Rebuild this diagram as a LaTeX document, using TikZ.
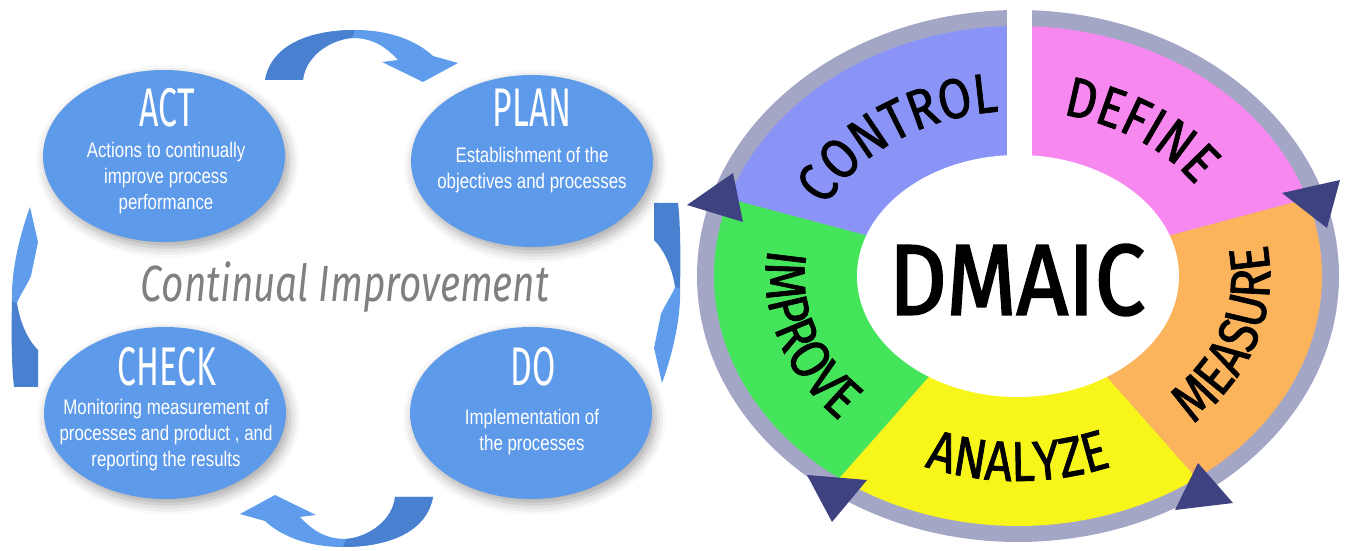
\documentclass[tikz,border=0pt]{standalone}
\usepackage{fontspec}
\setmainfont{Liberation Sans}
\newfontfamily\bodyfont[FakeStretch=0.8]{Liberation Sans}
\newfontfamily\titlefont[FakeStretch=0.62]{Fira Sans}
\newfontfamily\mottofont[FakeStretch=0.76]{Fira Sans}
\newfontfamily\dinfont[FakeStretch=0.86, FakeBold=1.2]{Fira Sans}
\newfontfamily\dmaicfont[FakeStretch=0.9, FakeBold=2]{Fira Sans}
\newcommand\ringfont{\dinfont\fontsize{32}{32}\selectfont}
\usetikzlibrary{shapes.geometric,shadows.blur,decorations.text}

\definecolor{pdcablue}{HTML}{5E9AEA}
\definecolor{bendlight}{HTML}{5F9DEC}
\definecolor{benddark}{HTML}{4A80D0}
\definecolor{mottogray}{HTML}{808080}
\definecolor{ringgray}{HTML}{A4A6C6}
\definecolor{definecol}{HTML}{F788F0}
\definecolor{measurecol}{HTML}{FBB45C}
\definecolor{analyzecol}{HTML}{F8F51A}
\definecolor{improvecol}{HTML}{45E55B}
\definecolor{controlcol}{HTML}{8A94F7}
\definecolor{tipcol}{HTML}{3E4280}

\tikzset{
  phase/.style={ellipse, fill=pdcablue, minimum width=4.84cm, minimum height=3.44cm, inner sep=0pt,
    blur shadow={shadow xshift=2pt, shadow yshift=-3pt, shadow blur radius=6pt, shadow opacity=35}},
  phasetitle/.style={text=white, inner sep=0pt, font=\titlefont\fontsize{31}{31}\selectfont},
  phasetext/.style={text=white, align=center, inner sep=0pt, font=\bodyfont\fontsize{12}{14.6}\selectfont},
  motto/.style={text=mottogray, inner sep=0pt, font=\mottofont\itshape\fontsize{29}{29}\selectfont},
  ringlabel/.style={decorate, decoration={text along path, text align=center, text={|\ringfont|#1}}},
  tip/.style={fill=tipcol}
}

\begin{document}
\begin{tikzpicture}[x=0.02cm, y=0.02cm]
\useasboundingbox (0,0) rectangle (1347,551);

% Top and bottom bent arrows
\foreach \turn in {0,180} {
  \begin{scope}[rotate around={\turn:(349,262.5)}]
    \fill[bendlight] (265,471) .. controls (272,509) and (315,521) .. (355,521)
      .. controls (392,521) and (418,509) .. (433,495) -- (458,488) -- (423,469) -- (382,489) -- (398,491)
      .. controls (385,505) and (372,513) .. (352,513) .. controls (328,511) and (305,493) .. (303,471) -- cycle;
    \fill[benddark] (265,471) .. controls (272,509) and (315,521) .. (355,521) -- (352,513)
      .. controls (328,511) and (305,493) .. (303,471) -- cycle;
  \end{scope}
}

% Left and right bent arrows
\foreach \turn in {0,180} {
  \begin{scope}[rotate around={\turn:(346,256)}]
    \fill[bendlight] (12,250) .. controls (11,276) and (18,311) .. (30,344) -- (38,309) -- (31,275)
      .. controls (26,264) and (20,256) .. (17,248) -- cycle;
    \fill[benddark] (12,250) .. controls (11,211) and (12,181) .. (14,164) -- (38,164) -- (38,201)
      .. controls (28,211) and (20,228) .. (17,248) -- cycle;
  \end{scope}
}

% PDCA ellipses
\node[phase] (act) at (164,395) {};
\node[phase] (plan) at (532,390) {};
\node[phase] (check) at (165,138) {};
\node[phase] (do) at (531,138) {};

% Titles
\node[phasetitle] (actTitle) at (167,443) {ACT};
\node[phasetitle] (planTitle) at (532,443) {PLAN};
\node[phasetitle] (checkTitle) at (167,184) {CHECK};
\node[phasetitle] (doTitle) at (533,184) {DO};

% Descriptions
\node[phasetext] (actText) at (166,373) {Actions to continually\\improve process\\performance};
\node[phasetext] (planText) at (532,381) {Establishment of the\\objectives and processes};
\node[phasetext] (checkText) at (166,116) {Monitoring measurement of\\processes and product , and\\reporting the results};
\node[phasetext] (doText) at (532,119) {Implementation of\\the processes};

% Middle label
\node[motto, anchor=base] (motto) at (345,249) {Continual Improvement};

% DMAIC ring
\coordinate (hub) at (1018,275);
\fill[ringgray] (hub) ellipse [x radius=321, y radius=266];
\fill[definecol] (hub) -- ([shift={(18:304 and 250)}]hub) arc[start angle=18, end angle=90, x radius=304, y radius=250] -- cycle;
\fill[controlcol] (hub) -- ([shift={(90:304 and 250)}]hub) arc[start angle=90, end angle=162, x radius=304, y radius=250] -- cycle;
\fill[improvecol] (hub) -- ([shift={(162:304 and 250)}]hub) arc[start angle=162, end angle=234, x radius=304, y radius=250] -- cycle;
\fill[analyzecol] (hub) -- ([shift={(234:304 and 250)}]hub) arc[start angle=234, end angle=306, x radius=304, y radius=250] -- cycle;
\fill[measurecol] (hub) -- ([shift={(306:304 and 250)}]hub) arc[start angle=306, end angle=378, x radius=304, y radius=250] -- cycle;

% Gap at the top and white hub
\fill[white] (1007,275) rectangle (1032,551);
\fill[white] (hub) ellipse [x radius=161, y radius=121];

% Ring labels
\path[ringlabel=CONTROL] ([shift={(164:212 and 165)}]hub) arc[start angle=164, end angle=88, x radius=212, y radius=165];
\path[ringlabel=DEFINE] ([shift={(92:212 and 165)}]hub) arc[start angle=92, end angle=16, x radius=212, y radius=165];
\path[ringlabel=MEASURE] ([shift={(304:252 and 205)}]hub) arc[start angle=304, end angle=380, x radius=252, y radius=205];
\path[ringlabel=ANALYZE] ([shift={(232:252 and 205)}]hub) arc[start angle=232, end angle=308, x radius=252, y radius=205];
\path[ringlabel=IMPROVE] ([shift={(160:252 and 205)}]hub) arc[start angle=160, end angle=236, x radius=252, y radius=205];

\node[font=\dmaicfont\fontsize{57}{57}\selectfont, inner sep=0pt] (dmaic) at (1017,271) {DMAIC};

% Arrow tips on the ring
\fill[tip] (687,346) -- (733,378) -- (743,329) -- cycle;
\fill[tip] (1282,358) -- (1340,371) -- (1327,323) -- cycle;
\fill[tip] (807,76) -- (867,71) -- (832,29) -- cycle;
\fill[tip] (1198,88) -- (1233,48) -- (1175,41) -- cycle;

\end{tikzpicture}
\end{document}
